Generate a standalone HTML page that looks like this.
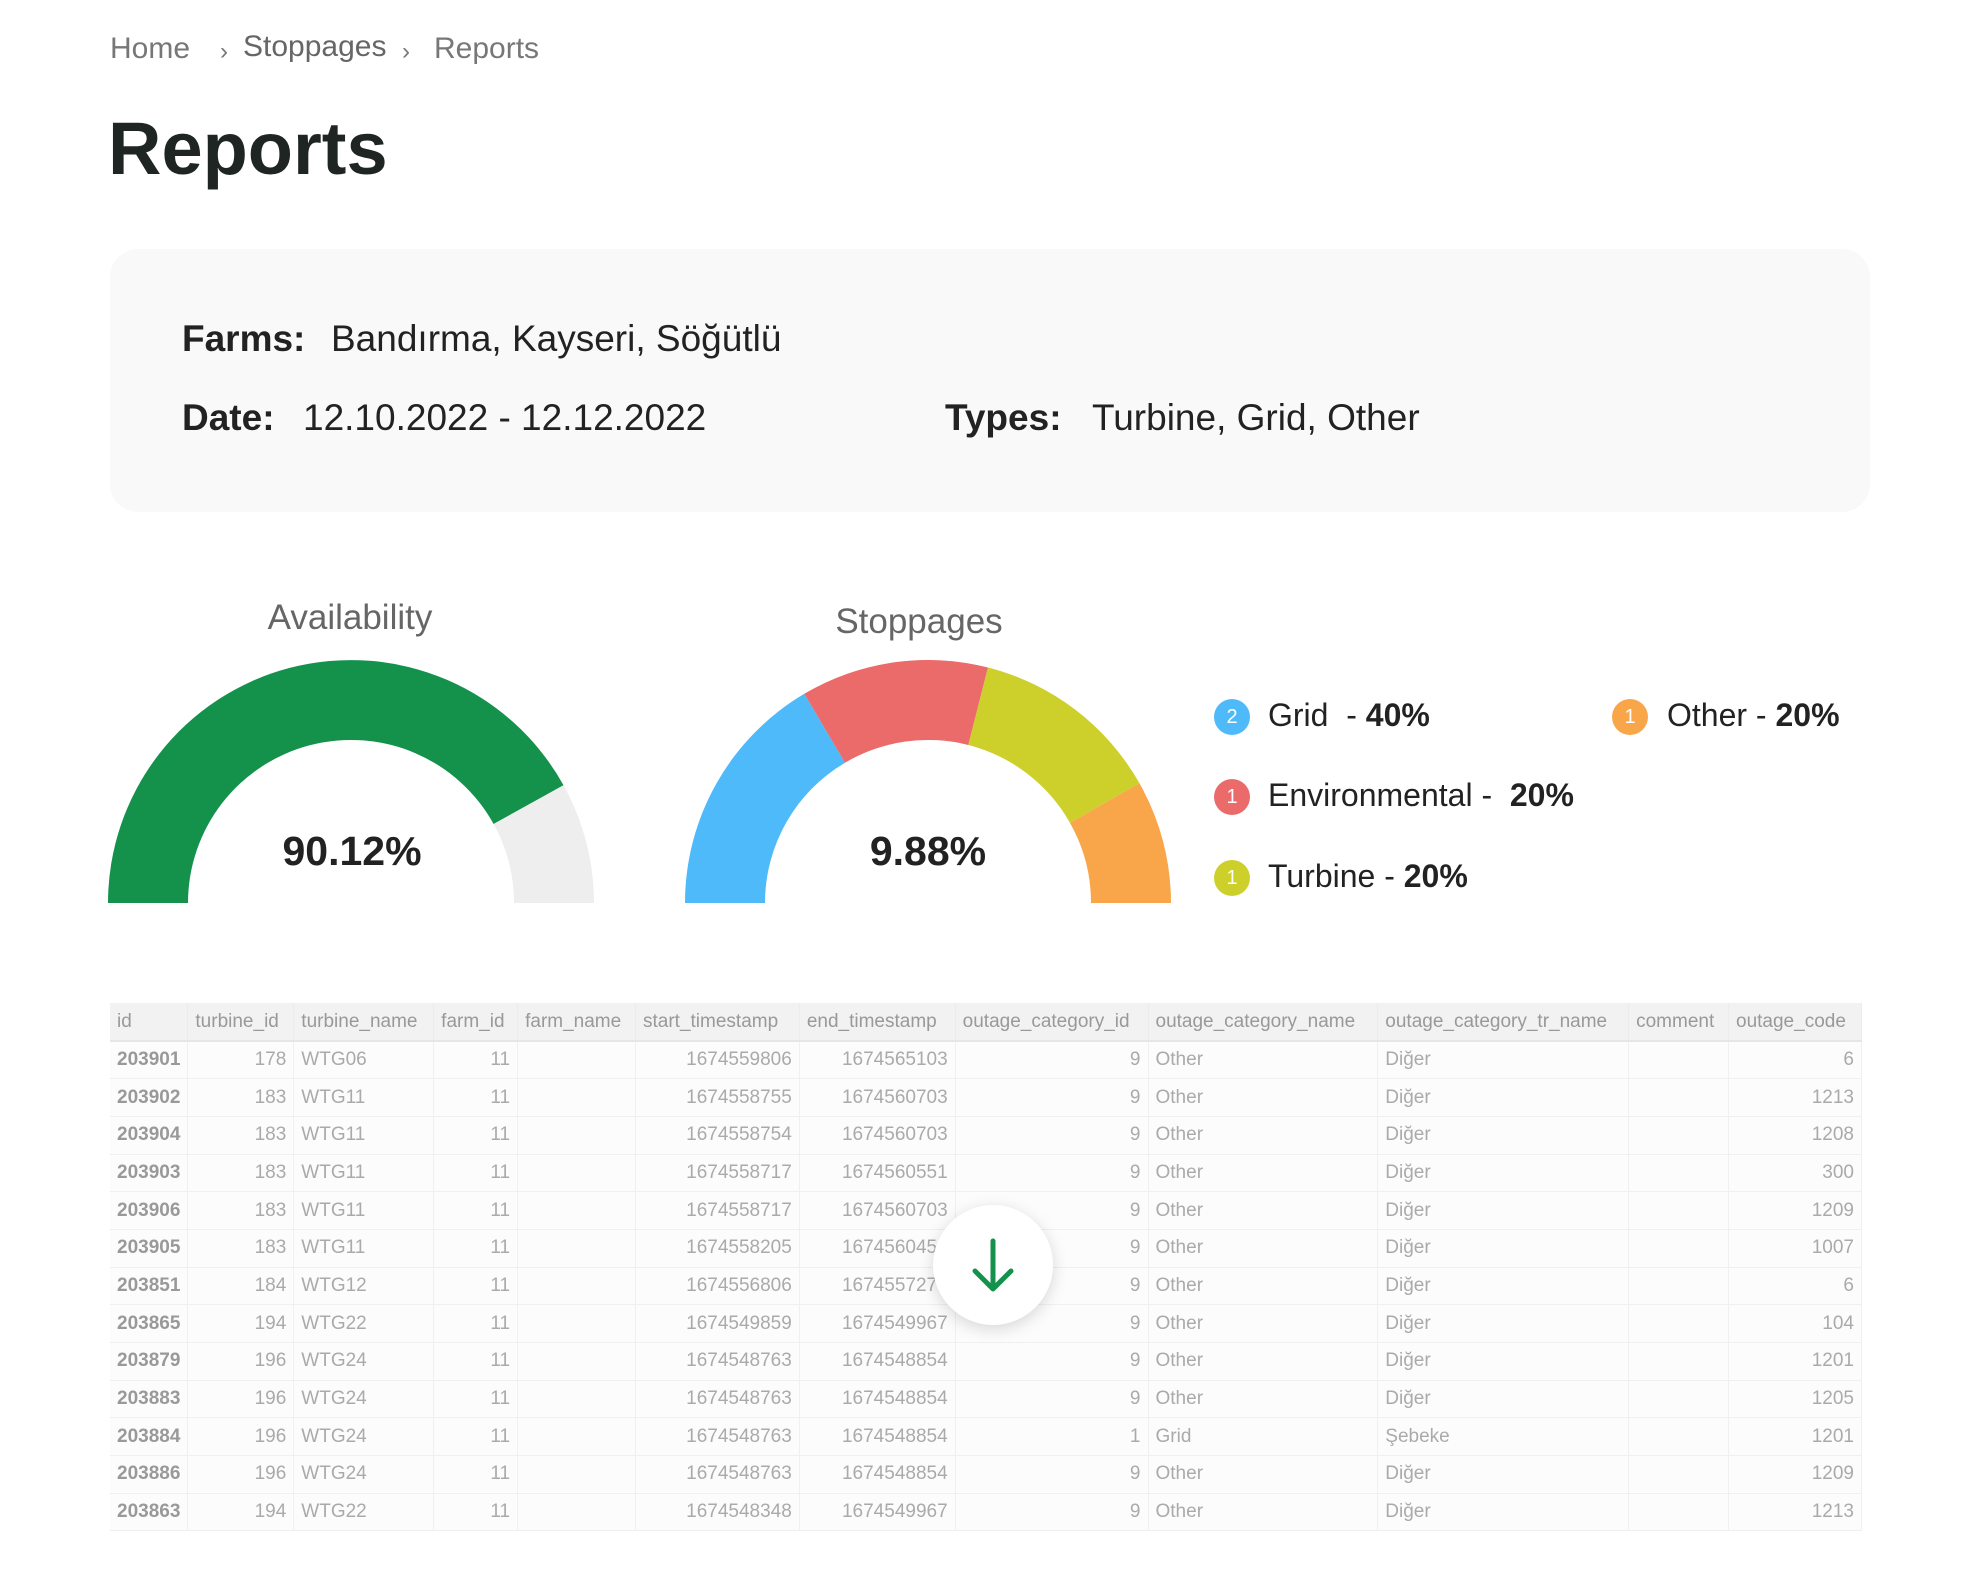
<!DOCTYPE html>
<html><head><meta charset="utf-8"><style>
*{margin:0;padding:0;box-sizing:border-box}
body{width:1972px;height:1589px;background:#fff;position:relative;overflow:hidden;font-family:"Liberation Sans",sans-serif;color:#222}
.a{position:absolute;white-space:nowrap}
.bc{font-size:30px;color:#777;top:32px}
.card{position:absolute;left:110px;top:249px;width:1760px;height:263px;background:#f9f9f9;border-radius:28px}
.lbl{font-size:37px;font-weight:bold;color:#222}
.val{font-size:37px;color:#222}
.leg{font-size:32px;color:#222}
.dot{position:absolute;width:36px;height:36px;border-radius:50%;color:#fff;font-size:20px;text-align:center;line-height:36px}
table{position:absolute;left:110px;top:1003px;width:1752px;border-collapse:collapse;font-family:"Liberation Sans Narrow","Liberation Sans",sans-serif;font-size:19px;color:#aaa;background:#fcfcfc}
th{background:#f2f2f2;font-weight:normal;color:#999;text-align:left;height:38px;padding:0 7px;border-right:1px solid #ececec;border-bottom:2px solid #e6e6e6}
td{height:37.7px;padding:0 7px;border-right:1px solid #f0f0f0;border-bottom:1px solid #f0f0f0}
td.r{text-align:right}
td.b{font-weight:bold;color:#999}
</style></head><body>
<div class="a bc" style="left:110px">Home</div>
<div class="a bc" style="left:220px;font-size:24px;top:38px">›</div>
<div class="a bc" style="left:243px;top:30px;color:#666">Stoppages</div>
<div class="a bc" style="left:402px;font-size:24px;top:38px">›</div>
<div class="a bc" style="left:434px">Reports</div>
<div class="a" style="left:108px;top:106px;font-size:74px;font-weight:bold;color:#1f2522">Reports</div>
<div class="card"></div>
<div class="a lbl" style="left:182px;top:318px">Farms:</div>
<div class="a val" style="left:331px;top:318px">Bandırma, Kayseri, Söğütlü</div>
<div class="a lbl" style="left:182px;top:397px">Date:</div>
<div class="a val" style="left:303px;top:397px">12.10.2022 - 12.12.2022</div>
<div class="a lbl" style="left:945px;top:397px">Types:</div>
<div class="a val" style="left:1092px;top:397px">Turbine, Grid, Other</div>

<div class="a" style="left:350px;top:598px;font-size:35px;color:#666;transform:translateX(-50%)">Availability</div>
<div class="a" style="left:919px;top:602px;font-size:35px;color:#666;transform:translateX(-50%)">Stoppages</div>
<svg class="a" style="left:-2px;top:-2px" width="1972" height="1000">
<path d="M110 905 A243 243 0 0 1 565.5 787.2 L495.6 826 A163 163 0 0 0 190 905 Z" fill="#14924c"/>
<path d="M565.5 787.2 A243 243 0 0 1 596 905 L516 905 A163 163 0 0 0 495.6 826 Z" fill="#eeeeee"/>
<path d="M687 905 A243 243 0 0 1 806.3 695.8 L847 764.7 A163 163 0 0 0 767 905 Z" fill="#4fbaf9"/>
<path d="M806.3 695.8 A243 243 0 0 1 990 669.5 L970.3 747 A163 163 0 0 0 847 764.7 Z" fill="#eb6a6a"/>
<path d="M990 669.5 A243 243 0 0 1 1141.5 785.3 L1071.9 824.7 A163 163 0 0 0 970.3 747 Z" fill="#cdcf2a"/>
<path d="M1141.5 785.3 A243 243 0 0 1 1173 905 L1093 905 A163 163 0 0 0 1071.9 824.7 Z" fill="#f9a64b"/>
</svg>
<div class="a" style="left:352px;top:828px;font-size:41px;font-weight:bold;color:#222;transform:translateX(-50%)">90.12%</div>
<div class="a" style="left:928px;top:828px;font-size:41px;font-weight:bold;color:#222;transform:translateX(-50%)">9.88%</div>

<div class="dot" style="left:1214px;top:699px;background:#4fbaf9">2</div>
<div class="a leg" style="left:1268px;top:697px">Grid&nbsp; - <b>40%</b></div>
<div class="dot" style="left:1214px;top:779px;background:#eb6a6a">1</div>
<div class="a leg" style="left:1268px;top:777px">Environmental - &nbsp;<b>20%</b></div>
<div class="dot" style="left:1214px;top:860px;background:#cdcf2a">1</div>
<div class="a leg" style="left:1268px;top:858px">Turbine - <b>20%</b></div>
<div class="dot" style="left:1612px;top:699px;background:#f9a64b">1</div>
<div class="a leg" style="left:1667px;top:697px">Other - <b>20%</b></div>

<table>
<colgroup><col style="width:77px"><col style="width:106px"><col style="width:140px"><col style="width:84px"><col style="width:118px"><col style="width:164px"><col style="width:156px"><col style="width:193px"><col style="width:230px"><col style="width:251px"><col style="width:100px"><col style="width:133px"></colgroup>
<tr><th>id</th><th>turbine_id</th><th>turbine_name</th><th>farm_id</th><th>farm_name</th><th>start_timestamp</th><th>end_timestamp</th><th>outage_category_id</th><th>outage_category_name</th><th>outage_category_tr_name</th><th>comment</th><th>outage_code</th></tr>
<tr><td class="b">203901</td><td class="r">178</td><td>WTG06</td><td class="r">11</td><td></td><td class="r">1674559806</td><td class="r">1674565103</td><td class="r">9</td><td>Other</td><td>Diğer</td><td></td><td class="r">6</td></tr>
<tr><td class="b">203902</td><td class="r">183</td><td>WTG11</td><td class="r">11</td><td></td><td class="r">1674558755</td><td class="r">1674560703</td><td class="r">9</td><td>Other</td><td>Diğer</td><td></td><td class="r">1213</td></tr>
<tr><td class="b">203904</td><td class="r">183</td><td>WTG11</td><td class="r">11</td><td></td><td class="r">1674558754</td><td class="r">1674560703</td><td class="r">9</td><td>Other</td><td>Diğer</td><td></td><td class="r">1208</td></tr>
<tr><td class="b">203903</td><td class="r">183</td><td>WTG11</td><td class="r">11</td><td></td><td class="r">1674558717</td><td class="r">1674560551</td><td class="r">9</td><td>Other</td><td>Diğer</td><td></td><td class="r">300</td></tr>
<tr><td class="b">203906</td><td class="r">183</td><td>WTG11</td><td class="r">11</td><td></td><td class="r">1674558717</td><td class="r">1674560703</td><td class="r">9</td><td>Other</td><td>Diğer</td><td></td><td class="r">1209</td></tr>
<tr><td class="b">203905</td><td class="r">183</td><td>WTG11</td><td class="r">11</td><td></td><td class="r">1674558205</td><td class="r">1674560459</td><td class="r">9</td><td>Other</td><td>Diğer</td><td></td><td class="r">1007</td></tr>
<tr><td class="b">203851</td><td class="r">184</td><td>WTG12</td><td class="r">11</td><td></td><td class="r">1674556806</td><td class="r">1674557275</td><td class="r">9</td><td>Other</td><td>Diğer</td><td></td><td class="r">6</td></tr>
<tr><td class="b">203865</td><td class="r">194</td><td>WTG22</td><td class="r">11</td><td></td><td class="r">1674549859</td><td class="r">1674549967</td><td class="r">9</td><td>Other</td><td>Diğer</td><td></td><td class="r">104</td></tr>
<tr><td class="b">203879</td><td class="r">196</td><td>WTG24</td><td class="r">11</td><td></td><td class="r">1674548763</td><td class="r">1674548854</td><td class="r">9</td><td>Other</td><td>Diğer</td><td></td><td class="r">1201</td></tr>
<tr><td class="b">203883</td><td class="r">196</td><td>WTG24</td><td class="r">11</td><td></td><td class="r">1674548763</td><td class="r">1674548854</td><td class="r">9</td><td>Other</td><td>Diğer</td><td></td><td class="r">1205</td></tr>
<tr><td class="b">203884</td><td class="r">196</td><td>WTG24</td><td class="r">11</td><td></td><td class="r">1674548763</td><td class="r">1674548854</td><td class="r">1</td><td>Grid</td><td>Şebeke</td><td></td><td class="r">1201</td></tr>
<tr><td class="b">203886</td><td class="r">196</td><td>WTG24</td><td class="r">11</td><td></td><td class="r">1674548763</td><td class="r">1674548854</td><td class="r">9</td><td>Other</td><td>Diğer</td><td></td><td class="r">1209</td></tr>
<tr><td class="b">203863</td><td class="r">194</td><td>WTG22</td><td class="r">11</td><td></td><td class="r">1674548348</td><td class="r">1674549967</td><td class="r">9</td><td>Other</td><td>Diğer</td><td></td><td class="r">1213</td></tr>
</table>
<div class="a" style="left:933px;top:1205px;width:120px;height:120px;border-radius:50%;background:#fff;box-shadow:0 4px 16px rgba(0,0,0,0.15)">
<svg width="120" height="120"><path d="M60 36 V82 M42 66 L60 84 L78 66" stroke="#14924c" stroke-width="5" fill="none" stroke-linecap="round" stroke-linejoin="round"/></svg>
</div>
</body></html>
